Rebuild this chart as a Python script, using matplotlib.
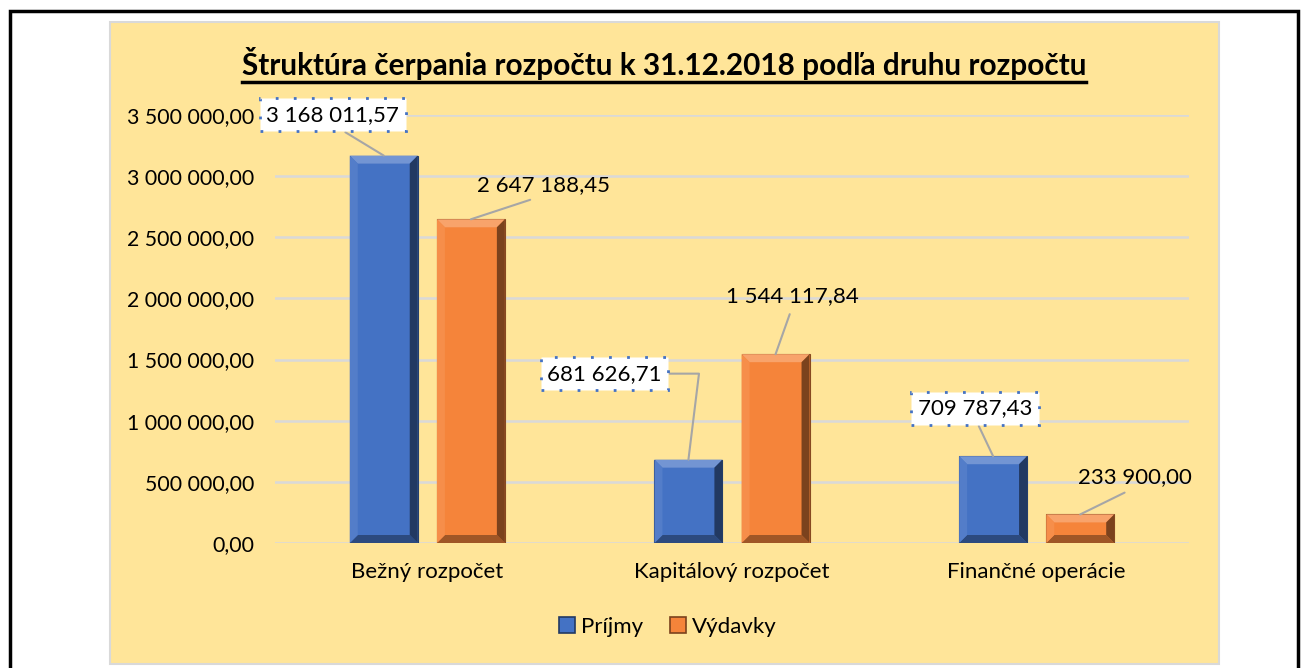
import matplotlib.pyplot as plt
import numpy as np
from matplotlib.patches import Rectangle, Polygon, Patch
from matplotlib.lines import Line2D
from matplotlib.ticker import FuncFormatter, MultipleLocator
import matplotlib.colors as mcolors

# data
categories = ['Bežný rozpočet', 'Kapitálový rozpočet', 'Finančné operácie']
series_names = ['Príjmy', 'Výdavky']
prijmy = [3168011.57, 681626.71, 709787.43]
vydavky = [2647188.45, 1544117.84, 233900.00]
title = 'Štruktúra čerpania rozpočtu k 31.12.2018 podľa druhu rozpočtu'

# label placement (offset from bar top in pixels), boxed labels, line anchor on text
label_offsets = [[(-51, 41), (-84, 86), (-18, 48)],
                 [(73, 34), (17, 58), (55, 37)]]
label_boxed = [[True, True, True], [False, False, False]]
label_relpos = [[(0.5, 0), (1, 0.5), (0.5, 0)],
                [(0.5, 0), (0.5, 0), (0.5, 0)]]

plt.rcParams['font.family'] = ['Lato', 'DejaVu Sans']
FS = 16

W, H = 1309, 668
fig = plt.figure(figsize=(W / 100, H / 100), dpi=100)
fig.patch.set_facecolor('white')

def fx(px):
    return px / W

def fy(py):
    return 1 - py / H

# outer frame and chart area
fig.patches.append(Rectangle((fx(10), fy(700)), fx(1298 - 10), (700 - 11) / H,
                             transform=fig.transFigure, fill=False, ec='black', lw=2.5))
fig.patches.append(Rectangle((fx(110), fy(664)), fx(1219 - 110), (664 - 22) / H,
                             transform=fig.transFigure, fc='#FFE599', ec='#D9D9D9', lw=1.5))

ax = fig.add_axes([fx(275), fy(543), fx(1189 - 275), (543 - 115) / H])
ax.set_zorder(2)
ax.set_facecolor('none')
ax.set_xlim(-0.5, 2.5)
ax.set_ylim(0, 3500000)
for s in ax.spines.values():
    s.set_visible(False)
ax.yaxis.set_major_locator(MultipleLocator(500000))
ax.yaxis.set_major_formatter(FuncFormatter(
    lambda v, p: f'{v:,.2f}'.replace(',', ' ').replace('.', ',')))
ax.tick_params(axis='both', length=0, labelsize=FS, colors='black')
ax.tick_params(axis='y', pad=15, labelsize=15.3)
ax.tick_params(axis='x', pad=14)
ax.grid(axis='y', color='#D9D9D9', lw=1.8)
ax.set_axisbelow(True)
x = np.arange(len(categories))
ax.set_xticks(x)
ax.set_xticklabels(categories)

bar_w = 0.223
shift = 0.143
colors = ['#4472C4', '#F5843A']
px_x = fx(1189 - 275) * W / 3.0       # pixels per x unit
px_y = (543 - 115) / 3500000.0        # pixels per y unit


def shade(c, f):
    r = np.array(mcolors.to_rgb(c))
    if f > 1:
        return tuple(r + (1 - r) * (f - 1))
    return tuple(r * f)


def bevel_bar(x0, w, h, color):
    b = 8
    bx = b / px_x
    by = min(b, h * px_y / 2) / px_y
    x1 = x0 + w
    ax.add_patch(Rectangle((x0, 0), w, h, fc=color, ec=shade(color, 0.55), lw=0.8, zorder=3))
    polys = [
        ([(x0, h), (x1, h), (x1 - bx, h - by), (x0 + bx, h - by)], shade(color, 1.25)),
        ([(x0, 0), (x1, 0), (x1 - bx, by), (x0 + bx, by)], shade(color, 0.65)),
        ([(x0, 0), (x0, h), (x0 + bx, h - by), (x0 + bx, by)], shade(color, 1.08)),
        ([(x1, 0), (x1, h), (x1 - bx, h - by), (x1 - bx, by)], shade(color, 0.5)),
    ]
    for pts, c in polys:
        ax.add_patch(Polygon(pts, closed=True, fc=c, ec='none', zorder=4))


for si, vals in enumerate([prijmy, vydavky]):
    for i, v in enumerate(vals):
        xc = x[i] + (shift if si else -shift)
        bevel_bar(xc - bar_w / 2, bar_w, v, colors[si])
        lbl = f'{v:,.2f}'.replace(',', ' ').replace('.', ',')
        dx, dy = label_offsets[si][i]
        bbox = None
        if label_boxed[si][i]:
            bbox = dict(boxstyle='square,pad=0.3', fc='white', ec='#4472C4',
                        ls=(0, (1, 5.5)), lw=2)
        rp = label_relpos[si][i]
        if rp == (1, 0.5):
            cs = 'angle,angleA=0,angleB=83,rad=0'
        else:
            cs = 'arc3'
        ax.annotate(lbl, xy=(xc, v), xytext=(dx, dy), textcoords='offset pixels',
                    ha='center', va='center', fontsize=FS, bbox=bbox, zorder=6,
                    annotation_clip=False,
                    arrowprops=dict(arrowstyle='-', color='#A6A6A6', lw=1.5,
                                    relpos=rp, shrinkA=4 if bbox is None else 0, shrinkB=0,
                                    connectionstyle=cs))

handles = [Patch(fc=colors[0], ec=shade(colors[0], 0.5), lw=1.2),
           Patch(fc=colors[1], ec=shade(colors[1], 0.5), lw=1.2)]
fig.legend(handles, series_names, loc='center', bbox_to_anchor=(fx(668), fy(627)),
           ncol=2, frameon=False, fontsize=FS, handlelength=0.7, handleheight=0.7,
           handletextpad=0.3, columnspacing=1.2)

t = fig.text(fx(664), fy(63), title, ha='center', va='center', fontsize=21.4, fontweight='bold')
fig.canvas.draw()
bb = t.get_window_extent()
fig.lines.append(Line2D([bb.x0 / W, bb.x1 / W], [(bb.y0 - 2) / H, (bb.y0 - 2) / H],
                        transform=fig.transFigure, color='black', lw=2.5))

fig.savefig('out.png', dpi=100, facecolor='white')
